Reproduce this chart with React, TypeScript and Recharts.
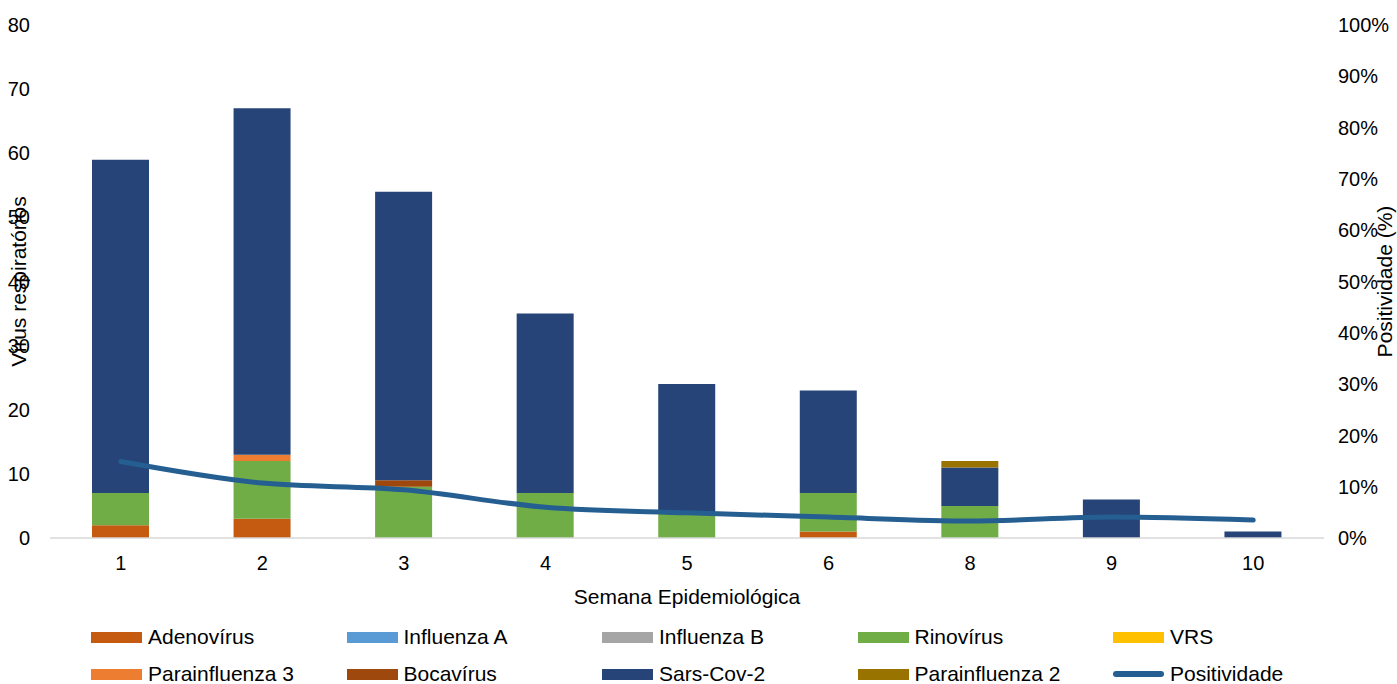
import React from 'react';
import { ComposedChart, Bar, Line, XAxis, YAxis, Legend } from 'recharts';

const weeks = ['1', '2', '3', '4', '5', '6', '8', '9', '10'];
const adenovirus = [2, 3, 0, 0, 0, 1, 0, 0, 0];
const influenzaA = [0, 0, 0, 0, 0, 0, 0, 0, 0];
const influenzaB = [0, 0, 0, 0, 0, 0, 0, 0, 0];
const rinovirus = [5, 9, 8, 7, 4, 6, 5, 0, 0];
const vrs = [0, 0, 0, 0, 0, 0, 0, 0, 0];
const parainfluenza3 = [0, 1, 0, 0, 0, 0, 0, 0, 0];
const bocavirus = [0, 0, 1, 0, 0, 0, 0, 0, 0];
const sarsCov2 = [52, 54, 45, 28, 20, 16, 6, 6, 1];
const parainfluenza2 = [0, 0, 0, 0, 0, 0, 1, 0, 0];
const positividade = [14.9, 10.7, 9.4, 6.0, 4.9, 4.1, 3.3, 4.1, 3.5];

const leftTicks = [0, 10, 20, 30, 40, 50, 60, 70, 80];
const rightTicks = [0, 10, 20, 30, 40, 50, 60, 70, 80, 90, 100];

const barSeries = [
  { key: 'adeno', name: 'Adenovírus', color: '#c55a11', values: adenovirus },
  { key: 'infA', name: 'Influenza A', color: '#5b9bd5', values: influenzaA },
  { key: 'infB', name: 'Influenza B', color: '#a5a5a5', values: influenzaB },
  { key: 'rino', name: 'Rinovírus', color: '#70ad47', values: rinovirus },
  { key: 'vrs', name: 'VRS', color: '#ffc000', values: vrs },
  { key: 'para3', name: 'Parainfluenza 3', color: '#ed7d31', values: parainfluenza3 },
  { key: 'boca', name: 'Bocavírus', color: '#9e480e', values: bocavirus },
  { key: 'sars', name: 'Sars-Cov-2', color: '#264478', values: sarsCov2 },
  { key: 'para2', name: 'Parainfluenza 2', color: '#997300', values: parainfluenza2 },
];
const lineColor = '#255e91';

const data = weeks.map((w, i) => {
  const row: any = { week: w, pos: positividade[i] };
  barSeries.forEach((s) => {
    row[s.key] = s.values[i];
  });
  return row;
});

const FONT = '"Liberation Sans", Arial, sans-serif';

const legendItems = [
  ...barSeries.map((s) => ({ name: s.name, color: s.color, line: false })),
  { name: 'Positividade', color: lineColor, line: true },
];

const LegendContent = () => (
  <div style={{ position: 'relative', width: 1397, height: 64, fontFamily: FONT, fontSize: 21, color: '#000' }}>
    {legendItems.map((it, i) => {
      const col = i % 5;
      const row = Math.floor(i / 5);
      return (
        <div
          key={it.name}
          style={{
            position: 'absolute',
            left: 91 + col * 255.5,
            top: row === 0 ? 7 : 44,
            height: 20,
            display: 'flex',
            alignItems: 'center',
            whiteSpace: 'nowrap',
          }}
        >
          {it.line ? (
            <span style={{ display: 'inline-block', width: 51, height: 6, borderRadius: 3, background: it.color }} />
          ) : (
            <span style={{ display: 'inline-block', width: 51, height: 11, background: it.color }} />
          )}
          <span style={{ marginLeft: 6, lineHeight: '20px' }}>{it.name}</span>
        </div>
      );
    })}
  </div>
);

export default function App() {
  return (
    <div style={{ position: 'absolute', left: 0, top: 0, width: 1397, height: 684, background: '#fff' }}>
      <ComposedChart
        width={1397}
        height={684}
        data={data}
        margin={{ top: 25, right: 0, bottom: 0, left: 0 }}
        style={{ fontFamily: FONT }}
      >
        <XAxis
          dataKey="week"
          height={146}
          tickLine={false}
          tickSize={0}
          tickMargin={18}
          axisLine={{ stroke: '#d9d9d9', strokeWidth: 1.5 }}
          tick={{ fill: '#000', fontSize: 20 }}
          label={{
            content: (props: any) => {
              const vb = props.viewBox || {};
              return (
                <text
                  x={vb.x + vb.width / 2}
                  y={vb.y + 66}
                  textAnchor="middle"
                  fill="#000"
                  fontSize={21}
                  fontFamily={FONT}
                >
                  Semana Epidemiológica
                </text>
              );
            },
          }}
        />
        <YAxis
          yAxisId="left"
          orientation="left"
          width={50}
          domain={[0, 80]}
          ticks={leftTicks}
          interval={0}
          axisLine={false}
          tickLine={false}
          tickSize={0}
          tickMargin={20}
          tick={{ fill: '#000', fontSize: 20 }}
          label={{
            value: 'Vírus respiratórios',
            angle: -90,
            position: 'insideLeft',
            offset: 19,
            style: { textAnchor: 'middle', fill: '#000', fontSize: 21 },
          }}
        />
        <YAxis
          yAxisId="right"
          orientation="right"
          width={73}
          domain={[0, 100]}
          ticks={rightTicks}
          interval={0}
          axisLine={false}
          tickLine={false}
          tickSize={0}
          tickMargin={14}
          tickFormatter={(v: number) => `${v}%`}
          tick={{ fill: '#000', fontSize: 20 }}
          label={{
            value: 'Positividade (%)',
            angle: -90,
            position: 'insideRight',
            offset: 12,
            style: { textAnchor: 'middle', fill: '#000', fontSize: 21 },
          }}
        />
        {barSeries.map((s) => (
          <Bar
            key={s.key}
            dataKey={s.key}
            name={s.name}
            stackId="a"
            yAxisId="left"
            fill={s.color}
            barSize={57}
            isAnimationActive={false}
          />
        ))}
        <Line
          dataKey="pos"
          name="Positividade"
          yAxisId="right"
          type="monotone"
          stroke={lineColor}
          strokeWidth={5}
          strokeLinecap="round"
          dot={false}
          activeDot={false}
          isAnimationActive={false}
        />
        <Legend
          layout="horizontal"
          verticalAlign="middle"
          align="center"
          content={() => <LegendContent />}
          wrapperStyle={{ position: 'absolute', top: 620, left: 0, width: 1397, height: 64 }}
        />
      </ComposedChart>
    </div>
  );
}
